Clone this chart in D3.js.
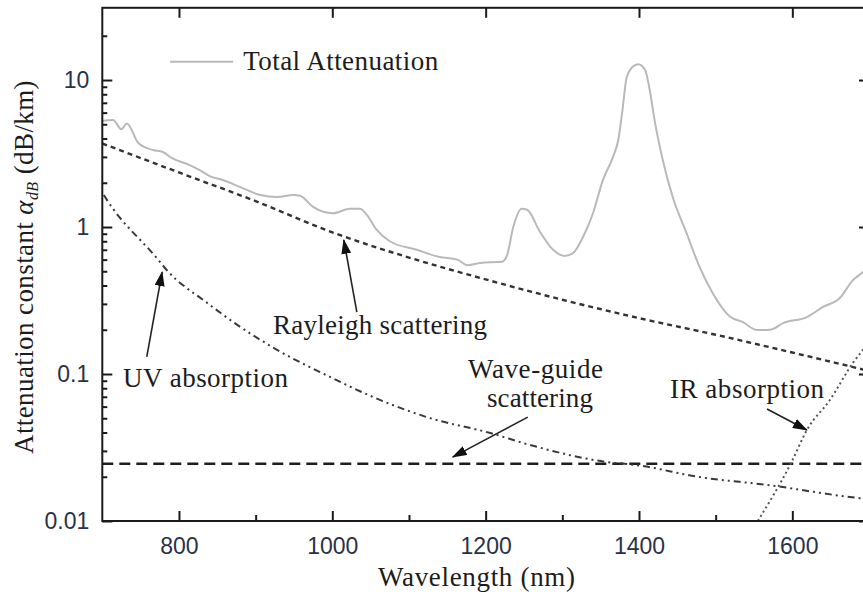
<!DOCTYPE html>
<html>
<head>
<meta charset="utf-8">
<script src="https://cdn.jsdelivr.net/npm/d3@7"></script>
<style>
body { margin: 0; background: #fff; }
svg { display: block; }
.tick text { font-family: "Liberation Sans", Arial, sans-serif; font-size: 23px; fill: #2b3145; }
.tick line { stroke: #1a1a1a; stroke-width: 2; }
.serif { font-family: "Liberation Serif", "Times New Roman", serif; font-size: 27px; fill: #1c1c1c; }
</style>
</head>
<body>
<svg></svg>
<script>
"use strict";

// total attenuation
var totalWl = [700, 714, 725, 732, 747, 766, 779, 791, 814, 827, 840, 857, 880, 906, 928, 949, 958, 975, 1001, 1023,
  1036, 1045, 1058, 1075, 1110, 1140, 1163, 1176, 1193, 1221, 1228, 1236, 1247, 1254, 1271, 1288, 1303, 1314, 1327,
  1340, 1353, 1366, 1373, 1378, 1384, 1391, 1399, 1408, 1414, 1421, 1431, 1444, 1462, 1479, 1496, 1519, 1535, 1554,
  1571, 1588, 1619, 1640, 1662, 1679, 1692, 1700];
var totalAtt = [5.26, 5.35, 4.62, 5.07, 3.73, 3.34, 3.24, 2.94, 2.64, 2.44, 2.22, 2.09, 1.87, 1.65, 1.60, 1.65, 1.63, 1.37, 1.24, 1.33,
  1.33, 1.21, 0.955, 0.80, 0.70, 0.625, 0.60, 0.55, 0.57, 0.58, 0.645, 1.0, 1.33, 1.31, 0.925, 0.70, 0.635, 0.665, 0.855,
  1.24, 2.09, 2.99, 3.91, 5.97, 10.5, 12.2, 12.8, 11.7, 8.55, 5.09, 2.86, 1.60, 0.91, 0.535, 0.356, 0.245, 0.226, 0.199,
  0.20, 0.222, 0.244, 0.286, 0.329, 0.435, 0.494, 0.55];

var rayWl = [700, 800, 900, 1000, 1100, 1200, 1300, 1400, 1500, 1600, 1700];
var rayAtt = [3.7, 2.35, 1.5, 0.92, 0.62, 0.44, 0.32, 0.24, 0.185, 0.14, 0.105];

var uvWl = [702, 706, 771, 784, 837, 880, 928, 997, 1053, 1127, 1206, 1258, 1358, 1397, 1479, 1567, 1688, 1700];
var uvAtt = [1.65, 1.53, 0.615, 0.51, 0.304, 0.209, 0.146, 0.0955, 0.0698, 0.0502, 0.0397, 0.0329, 0.0252, 0.024, 0.0199, 0.0176, 0.0143, 0.0141];

var wgWl = [700, 1700];
var wgAtt = [0.0245, 0.0245];

var irWl = [1555, 1599, 1619, 1649, 1679, 1692, 1700];
var irAtt = [0.01, 0.0252, 0.0416, 0.0665, 0.119, 0.146, 0.165];

var xMajor = [800, 1000, 1200, 1400, 1600];
var xMinor = [900, 1100, 1300, 1500, 1700];
var yMajor = [0.01, 0.1, 1, 10];
var yLabels = ["0.01", "0.1", "1", "10"];
var yMinor = [];
[0.01, 0.1, 1].forEach(function (d) {
  for (var k = 2; k <= 9; k++) yMinor.push(+(d * k).toPrecision(2));
});
yMinor.push(20);

// annotations: text, position (wavelength, value), text width
var labelText = ["Rayleigh scattering", "UV absorption", "Wave-guide", "scattering", "IR absorption"];
var labelWl = [922.6, 727, 1177, 1201.7, 1440.5];
var labelAtt = [0.187, 0.0817, 0.094, 0.0597, 0.0687];
var labelWidth = [214, 165, 135, 106, 154];

// arrows: tail -> tip
var arrowFromWl = [1032, 758, 1255, 1567];
var arrowFromAtt = [0.264, 0.131, 0.0509, 0.0578];
var arrowToWl = [1015, 778, 1157, 1619];
var arrowToAtt = [0.817, 0.494, 0.0272, 0.0416];

var svg = d3.select("svg").attr("width", 863).attr("height", 601);

var x = d3.scaleLinear().domain([700, 1700]).range([102.3, 869]);
var y = d3.scaleLog().domain([0.01, 31]).range([521, 7.8]);

var defs = svg.append("defs");
defs.append("clipPath").attr("id", "plot")
  .append("rect")
  .attr("x", x(700)).attr("y", y(31))
  .attr("width", x(1700) - x(700)).attr("height", y(0.01) - y(31));

defs.append("marker").attr("id", "head")
  .attr("markerUnits", "userSpaceOnUse")
  .attr("markerWidth", 16).attr("markerHeight", 10)
  .attr("refX", 14).attr("refY", 5)
  .attr("orient", "auto")
  .append("path").attr("d", "M0,0 L15,5 L0,10 Z").attr("fill", "#111");

function zip(a, b) {
  return a.map(function (d, i) { return [d, b[i]]; });
}

var line = d3.line()
  .x(function (d) { return x(d[0]); })
  .y(function (d) { return y(d[1]); })
  .curve(d3.curveMonotoneX);

var series = [
  { pts: zip(wgWl, wgAtt), stroke: "#1e1e1e", width: 2.6, dash: "11,6" },
  { pts: zip(rayWl, rayAtt), stroke: "#333", width: 2.4, dash: "5,4" },
  { pts: zip(uvWl, uvAtt), stroke: "#3a3a3a", width: 2, dash: "7,4,2,4,2,4" },
  { pts: zip(irWl, irAtt), stroke: "#555", width: 2, dash: "2,3" },
  { pts: zip(totalWl, totalAtt), stroke: "#b9b9b9", width: 2, dash: null }
];

var plot = svg.append("g").attr("clip-path", "url(#plot)");
plot.selectAll("path.series").data(series).enter().append("path")
  .attr("class", "series")
  .attr("fill", "none")
  .attr("d", function (d) { return line(d.pts); })
  .attr("stroke", function (d) { return d.stroke; })
  .attr("stroke-width", function (d) { return d.width; })
  .attr("stroke-dasharray", function (d) { return d.dash; });

// axes, ticks pointing inward
function strip(g) { g.select(".domain").remove(); }

svg.append("g").attr("transform", "translate(0," + y(0.01) + ")")
  .call(d3.axisBottom(x).tickValues(xMajor).tickSize(-10).tickPadding(17).tickFormat(d3.format("d")))
  .call(strip);
svg.append("g").attr("transform", "translate(0," + y(0.01) + ")")
  .call(d3.axisBottom(x).tickValues(xMinor).tickSize(-6).tickFormat(""))
  .call(strip);
svg.append("g").attr("transform", "translate(0," + y(31) + ")")
  .call(d3.axisTop(x).tickValues(xMajor).tickSize(-10).tickFormat(""))
  .call(strip);
svg.append("g").attr("transform", "translate(" + x(700) + ",0)")
  .call(d3.axisLeft(y).tickValues(yMajor).tickSize(-10).tickPadding(13)
    .tickFormat(function (d, i) { return yLabels[i]; }))
  .call(strip);
svg.append("g").attr("transform", "translate(" + x(700) + ",0)")
  .call(d3.axisLeft(y).tickValues(yMinor).tickSize(-5).tickFormat(""))
  .call(strip);
svg.append("g").attr("transform", "translate(" + x(1700) + ",0)")
  .call(d3.axisRight(y).tickValues(yMajor).tickSize(-10).tickFormat(""))
  .call(strip);

svg.selectAll(".tick text").attr("fill", null);
svg.selectAll(".tick line").attr("stroke", null);

svg.append("rect")
  .attr("x", x(700)).attr("y", y(31))
  .attr("width", x(1700) - x(700)).attr("height", y(0.01) - y(31))
  .attr("fill", "none").attr("stroke", "#1a1a1a").attr("stroke-width", 2);

// legend
svg.append("line")
  .attr("x1", x(788.5)).attr("x2", x(870.6))
  .attr("y1", y(13.3)).attr("y2", y(13.3))
  .attr("stroke", "#b9b9b9").attr("stroke-width", 2);
svg.append("text").attr("class", "serif")
  .attr("x", x(883.8)).attr("y", y(11.7))
  .attr("textLength", 195).attr("lengthAdjust", "spacing")
  .text("Total Attenuation");

// annotation labels and arrows
svg.selectAll("text.note").data(labelText).enter().append("text")
  .attr("class", "serif note")
  .attr("x", function (d, i) { return x(labelWl[i]); })
  .attr("y", function (d, i) { return y(labelAtt[i]); })
  .attr("textLength", function (d, i) { return labelWidth[i]; })
  .attr("lengthAdjust", "spacing")
  .text(function (d) { return d; });

svg.selectAll("line.arrow").data(arrowFromWl).enter().append("line")
  .attr("class", "arrow")
  .attr("x1", function (d) { return x(d); })
  .attr("y1", function (d, i) { return y(arrowFromAtt[i]); })
  .attr("x2", function (d, i) { return x(arrowToWl[i]); })
  .attr("y2", function (d, i) { return y(arrowToAtt[i]); })
  .attr("stroke", "#222").attr("stroke-width", 1.6)
  .attr("marker-end", "url(#head)");

// axis titles
svg.append("text").attr("class", "serif")
  .attr("x", 378).attr("y", 586)
  .attr("textLength", 197).attr("lengthAdjust", "spacing")
  .text("Wavelength (nm)");

var yt = svg.append("text").attr("class", "serif")
  .attr("transform", "translate(33,267) rotate(-90)")
  .attr("text-anchor", "middle")
  .style("letter-spacing", "0.4px");
yt.append("tspan").text("Attenuation constant ");
yt.append("tspan").attr("font-style", "italic").text("α");
yt.append("tspan").attr("font-style", "italic").attr("font-size", "16px").attr("dy", 5).text("dB");
yt.append("tspan").attr("dy", -5).text(" (dB/km)");
</script>
</body>
</html>
